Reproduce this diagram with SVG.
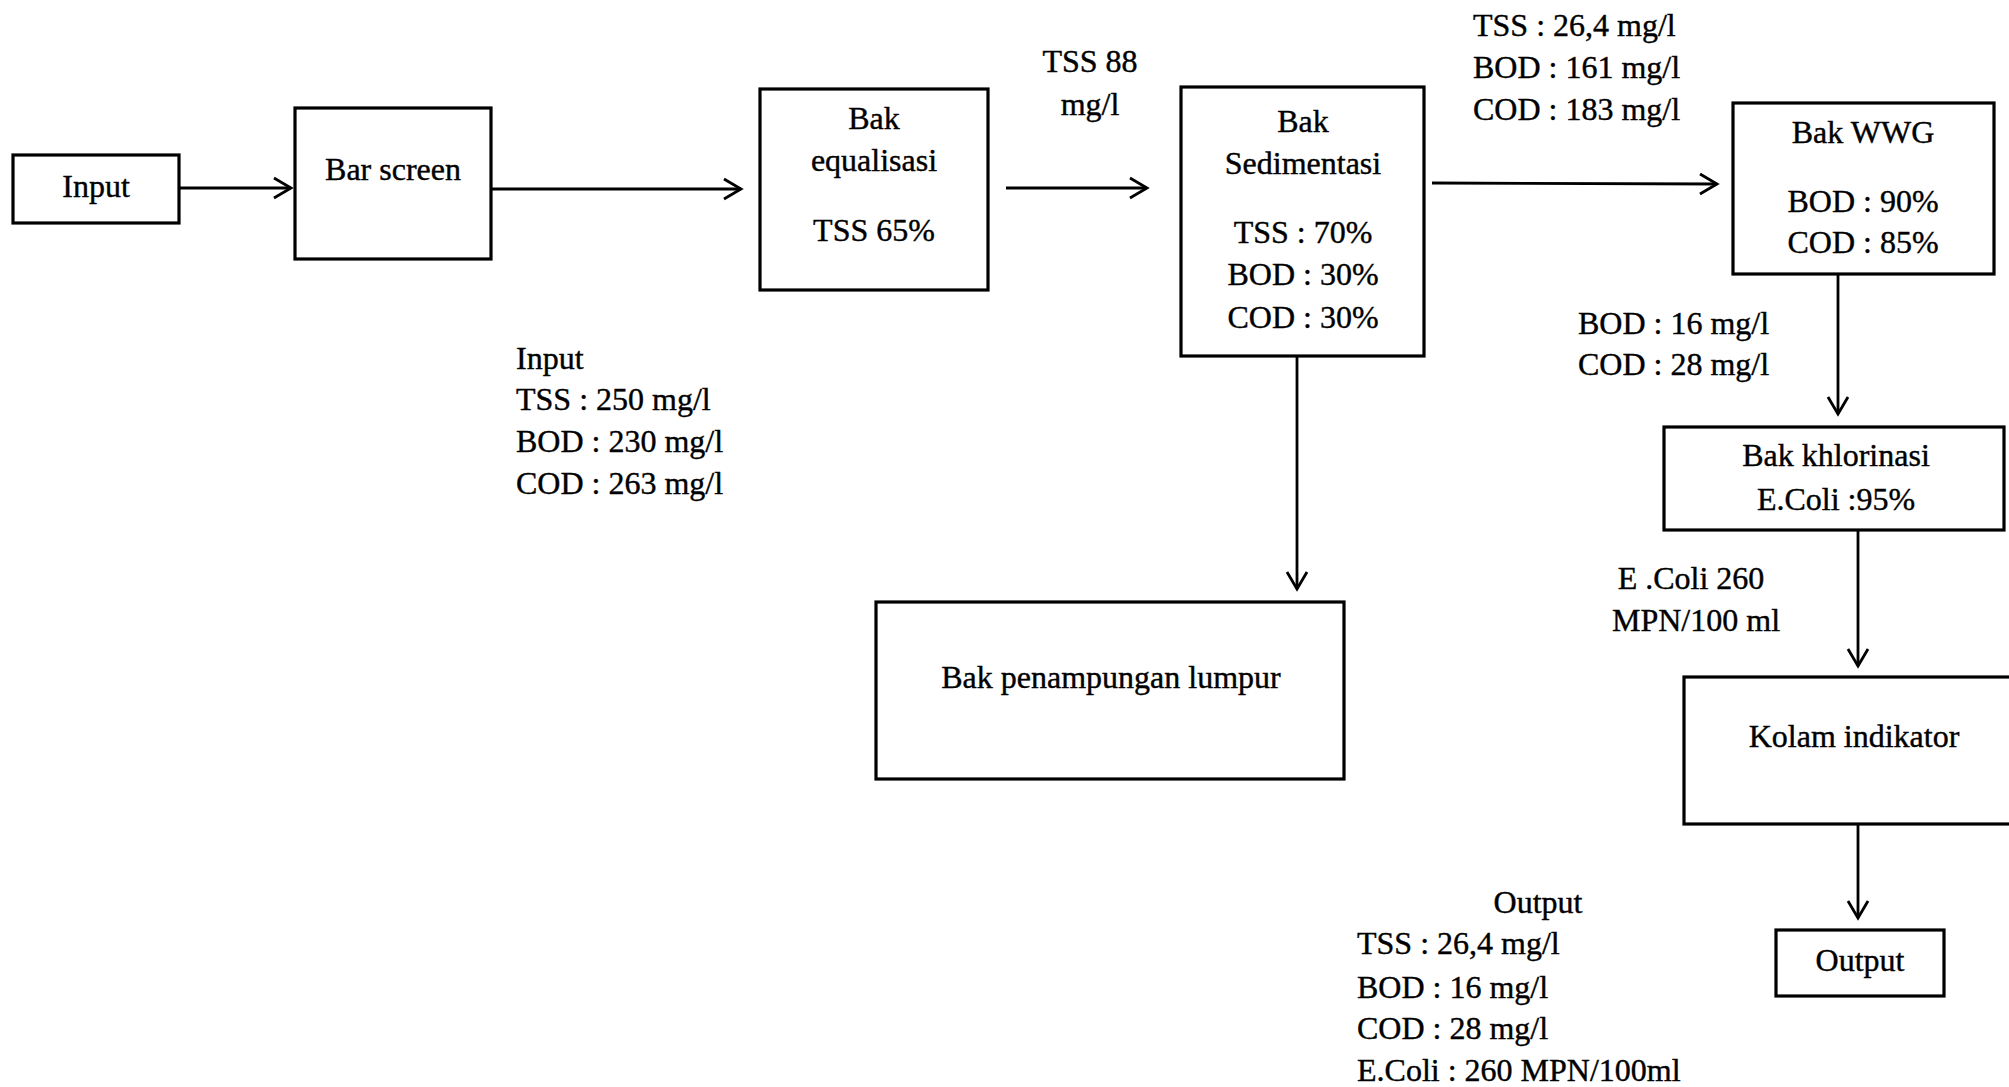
<svg xmlns="http://www.w3.org/2000/svg" width="2009" height="1087" viewBox="0 0 2009 1087">
<defs>
<style>
.box{fill:#fff;stroke:#000;stroke-width:3.2}
.t{font-family:"Liberation Serif","Times New Roman",serif;font-size:32px;fill:#000;stroke:#000;stroke-width:0.4}
.c{text-anchor:middle}
.ln{stroke:#000;stroke-width:2.8;fill:none}
</style>
<marker id="ah" viewBox="0 0 24 24" refX="21" refY="12" markerWidth="24" markerHeight="24" markerUnits="userSpaceOnUse" orient="auto">
<path d="M4,2 L21,12 L4,22" fill="none" stroke="#000" stroke-width="2.8"/>
</marker>
</defs>
<rect width="2009" height="1087" fill="#fff"/>
<g id="connectors">
<line class="ln" x1="179" y1="188" x2="291" y2="188" marker-end="url(#ah)"/>
<line class="ln" x1="491" y1="189" x2="741" y2="189" marker-end="url(#ah)"/>
<line class="ln" x1="1006" y1="188" x2="1147" y2="188" marker-end="url(#ah)"/>
<line class="ln" x1="1432" y1="183" x2="1717" y2="184" marker-end="url(#ah)"/>
<line class="ln" x1="1297" y1="356" x2="1297" y2="589" marker-end="url(#ah)"/>
<line class="ln" x1="1838" y1="274" x2="1838" y2="414" marker-end="url(#ah)"/>
<line class="ln" x1="1858" y1="530" x2="1858" y2="666" marker-end="url(#ah)"/>
<line class="ln" x1="1858" y1="824" x2="1858" y2="918" marker-end="url(#ah)"/>
</g>
<g id="input">
<rect class="box" x="13" y="155" width="166" height="68"/>
<text class="t c" x="96" y="197">Input</text>
</g>
<g id="bar-screen">
<rect class="box" x="295" y="108" width="196" height="151"/>
<text class="t c" x="393" y="180">Bar screen</text>
</g>
<g id="bak-equalisasi">
<rect class="box" x="760" y="89" width="228" height="201"/>
<text class="t c" x="874" y="129">Bak</text>
<text class="t c" x="874" y="171">equalisasi</text>
<text class="t c" x="874" y="241">TSS 65%</text>
</g>
<g id="bak-sedimentasi">
<rect class="box" x="1181" y="87" width="243" height="269"/>
<text class="t c" x="1303" y="132">Bak</text>
<text class="t c" x="1303" y="174">Sedimentasi</text>
<text class="t c" x="1303" y="243">TSS : 70%</text>
<text class="t c" x="1303" y="285">BOD : 30%</text>
<text class="t c" x="1303" y="328">COD : 30%</text>
</g>
<g id="bak-wwg">
<rect class="box" x="1733" y="103" width="261" height="171"/>
<text class="t c" x="1863" y="143">Bak WWG</text>
<text class="t c" x="1863" y="212">BOD : 90%</text>
<text class="t c" x="1863" y="253">COD : 85%</text>
</g>
<g id="bak-khlorinasi">
<rect class="box" x="1664" y="427" width="340" height="103"/>
<text class="t c" x="1836" y="466">Bak khlorinasi</text>
<text class="t c" x="1836" y="510">E.Coli :95%</text>
</g>
<g id="kolam-indikator">
<rect class="box" x="1684" y="677" width="330" height="147"/>
<text class="t c" x="1854" y="747">Kolam indikator</text>
</g>
<g id="output">
<rect class="box" x="1776" y="930" width="168" height="66"/>
<text class="t c" x="1860" y="971">Output</text>
</g>
<g id="bak-penampungan-lumpur">
<rect class="box" x="876" y="602" width="468" height="177"/>
<text class="t c" x="1111" y="688">Bak penampungan lumpur</text>
</g>
<g id="labels">
<text class="t c" x="1090" y="72">TSS 88</text>
<text class="t c" x="1090" y="115">mg/l</text>
<text class="t" x="1473" y="36">TSS : 26,4 mg/l</text>
<text class="t" x="1473" y="78">BOD : 161 mg/l</text>
<text class="t" x="1473" y="120">COD : 183 mg/l</text>
<text class="t" x="516" y="369">Input</text>
<text class="t" x="516" y="410">TSS : 250 mg/l</text>
<text class="t" x="516" y="452">BOD : 230 mg/l</text>
<text class="t" x="516" y="494">COD : 263 mg/l</text>
<text class="t" x="1578" y="334">BOD : 16 mg/l</text>
<text class="t" x="1578" y="375">COD : 28 mg/l</text>
<text class="t c" x="1691" y="589">E .Coli 260</text>
<text class="t c" x="1696" y="631">MPN/100 ml</text>
<text class="t c" x="1538" y="913">Output</text>
<text class="t" x="1357" y="954">TSS : 26,4 mg/l</text>
<text class="t" x="1357" y="998">BOD : 16 mg/l</text>
<text class="t" x="1357" y="1039">COD : 28 mg/l</text>
<text class="t" x="1357" y="1081">E.Coli : 260 MPN/100ml</text>
</g>
</svg>
